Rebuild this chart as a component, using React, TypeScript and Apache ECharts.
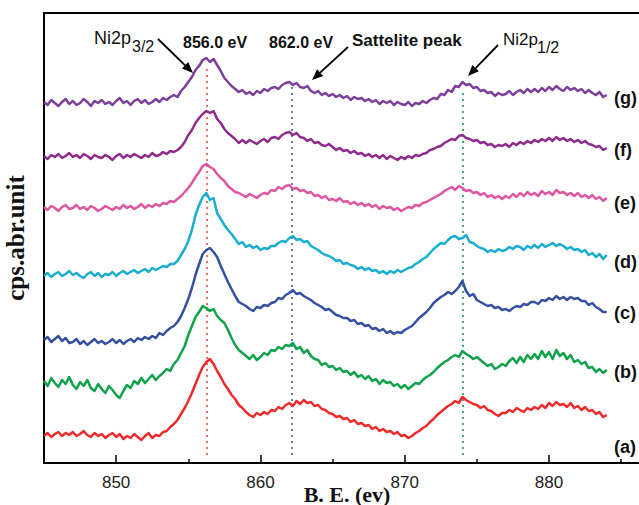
import React, { useEffect, useRef } from "react";
import * as echarts from "echarts";

const energies = [
  845, 845.25, 845.5, 845.75, 846, 846.25, 846.5, 846.75,
  847, 847.25, 847.5, 847.75, 848, 848.25, 848.5, 848.75,
  849, 849.25, 849.5, 849.75, 850, 850.25, 850.5, 850.75,
  851, 851.25, 851.5, 851.75, 852, 852.25, 852.5, 852.75,
  853, 853.25, 853.5, 853.75, 854, 854.25, 854.5, 854.75,
  855, 855.25, 855.5, 855.75, 856, 856.25, 856.5, 856.75,
  857, 857.25, 857.5, 857.75, 858, 858.25, 858.5, 858.75,
  859, 859.25, 859.5, 859.75, 860, 860.25, 860.5, 860.75,
  861, 861.25, 861.5, 861.75, 862, 862.25, 862.5, 862.75,
  863, 863.25, 863.5, 863.75, 864, 864.25, 864.5, 864.75,
  865, 865.25, 865.5, 865.75, 866, 866.25, 866.5, 866.75,
  867, 867.25, 867.5, 867.75, 868, 868.25, 868.5, 868.75,
  869, 869.25, 869.5, 869.75, 870, 870.25, 870.5, 870.75,
  871, 871.25, 871.5, 871.75, 872, 872.25, 872.5, 872.75,
  873, 873.25, 873.5, 873.75, 874, 874.25, 874.5, 874.75,
  875, 875.25, 875.5, 875.75, 876, 876.25, 876.5, 876.75,
  877, 877.25, 877.5, 877.75, 878, 878.25, 878.5, 878.75,
  879, 879.25, 879.5, 879.75, 880, 880.25, 880.5, 880.75,
  881, 881.25, 881.5, 881.75, 882, 882.25, 882.5, 882.75,
  883, 883.25, 883.5, 883.75, 884,
];

const curveA = [
  27, 30, 26, 29, 31, 27, 30, 28,
  31, 27, 29, 32, 28, 26, 30, 27,
  29, 25, 28, 30, 26, 29, 24, 27,
  25, 29, 26, 23, 27, 30, 25, 28,
  27, 31, 32, 36, 39, 43, 49, 55,
  62, 70, 79, 88, 96, 101, 104, 99,
  92, 86, 79, 74, 68, 64, 58, 55,
  51, 48, 46, 50, 48, 51, 49, 53,
  52, 56, 54, 58, 60, 57, 62, 59,
  63, 60, 61, 57, 58, 54, 53, 50,
  49, 46, 47, 44, 45, 41, 43, 39,
  40, 37, 38, 34, 36, 32, 34, 31,
  32, 29, 31, 27, 28, 25, 27, 30,
  32, 35, 37, 41, 44, 48, 51, 54,
  57, 59, 62, 60, 66, 63, 61, 59,
  58, 55, 57, 53, 52, 49, 47, 50,
  50, 53, 51, 55, 53, 51, 55, 53,
  56, 54, 58, 55, 60, 57, 61, 58,
  59, 56, 60, 55, 57, 53, 56, 52,
  53, 49, 51, 46, 48,
];
const curveB = [
  82, 77, 85, 80, 76, 83, 79, 86,
  78, 74, 81, 77, 83, 75, 72, 79,
  74, 70, 77, 73, 68, 65, 72, 78,
  75, 82, 79, 85, 80, 84, 88, 83,
  87, 90, 94, 92, 99, 103, 110, 117,
  128, 137, 146, 151, 157, 155, 152, 154,
  147, 143, 140, 133, 125, 118, 113, 110,
  107, 104, 108, 103, 106, 110, 108, 113,
  112, 116, 114, 118, 117, 120, 114, 116,
  110, 113, 107, 104, 103, 98, 100, 96,
  97, 93, 95, 91, 92, 88, 91, 86,
  88, 84, 87, 82, 84, 79, 83, 80,
  81, 77, 79, 75, 78, 74, 77, 80,
  79, 83, 86, 88, 91, 95, 98, 101,
  103, 106, 108, 106, 112, 109, 107, 104,
  106, 103, 100, 97, 99, 94, 96, 99,
  97, 102, 105, 100, 106, 101, 108, 104,
  109, 104, 112, 106, 111, 104, 113, 107,
  110, 104, 108, 101, 103, 99, 101, 95,
  96, 91, 94, 90, 93,
];
const curveC = [
  123, 126, 121, 124, 127, 122, 125, 120,
  121, 124, 119, 122, 118, 121, 124, 120,
  122, 119, 121, 124, 120, 123, 119, 122,
  124, 121, 125, 123, 126, 124, 127, 125,
  130, 128, 132, 135, 137, 141, 147, 155,
  164, 175, 188, 199, 209, 213, 215, 211,
  206, 197, 189, 181, 174, 167, 161, 159,
  157, 154, 152, 156, 155, 158, 157, 160,
  161, 165, 164, 168, 170, 173, 169, 170,
  167, 165, 163, 160, 158, 156, 153, 154,
  151, 148, 147, 145, 145, 142, 143, 139,
  140, 137, 138, 134, 135, 132, 134, 130,
  132, 129, 131, 130, 133, 135, 137, 141,
  145, 148, 151, 155, 160, 163, 166, 168,
  171, 169, 172, 176, 182, 172, 167, 169,
  163, 161, 159, 157, 158, 155, 156, 153,
  154, 152, 155, 157, 156, 159, 158, 161,
  161, 159, 163, 162, 165, 163, 167, 164,
  166, 163, 166, 164, 165, 162, 162, 158,
  160, 156, 154, 151, 151,
];
const curveD = [
  187, 190, 186, 189, 191, 187, 189, 192,
  188, 190, 187, 185, 189, 191, 187, 190,
  186, 189, 188, 191, 187, 190, 192, 189,
  191, 193, 190, 192, 194, 191, 195, 193,
  195, 197, 196, 199, 199, 202, 208, 214,
  222, 233, 248, 258, 266, 270, 263, 265,
  250, 244, 238, 233, 229, 224, 219, 221,
  216, 218, 215, 217, 213, 215, 214, 217,
  217, 220, 222, 221, 225, 227, 223, 224,
  221, 222, 217, 215, 213, 210, 208, 207,
  205, 202, 203, 199, 200, 198, 197, 194,
  196, 193, 195, 192, 193, 190, 192, 189,
  192, 190, 193, 191, 193, 195, 196, 199,
  201, 204, 206, 210, 214, 217, 220, 219,
  223, 226, 227, 224, 225, 228, 221, 220,
  217, 215, 214, 211, 213, 211, 214, 212,
  213, 216, 214, 217, 216, 213, 217, 215,
  218, 215, 219, 216, 218, 220, 217, 219,
  217, 214, 216, 213, 214, 211, 213, 208,
  210, 206, 209, 204, 208,
];
const curveE = [
  256, 253, 257, 255, 252, 256, 258, 254,
  255, 258, 254, 256, 253, 257, 255, 252,
  254, 257, 255, 253, 256, 254, 258, 255,
  257, 254, 256, 259, 255, 258, 256, 259,
  257, 260, 259, 262, 261, 264, 267, 271,
  275, 280, 286, 291, 297, 299, 296, 294,
  289, 285, 282, 277, 274, 271, 270, 268,
  266, 269, 267, 265, 268, 270, 269, 273,
  272, 276, 274, 277, 278, 274, 275, 272,
  273, 270, 271, 267, 268, 265, 267, 263,
  264, 262, 265, 261, 262, 259, 261, 258,
  260, 257, 259, 256, 258, 254, 257, 255,
  256, 253, 255, 252, 254, 256, 255, 258,
  257, 260, 261, 263, 265, 267, 269, 272,
  274, 276, 273, 277, 275, 272, 273, 270,
  271, 268, 270, 266, 268, 265, 267, 264,
  267, 265, 269, 266, 270, 267, 271, 268,
  270, 267, 272, 269, 271, 268, 273, 270,
  271, 268, 270, 267, 270, 266, 268, 265,
  268, 264, 266, 262, 265,
];
const curveF = [
  307, 304, 308, 306, 309, 305, 307, 310,
  306, 308, 305, 309, 307, 304, 308, 306,
  305, 308, 306, 303, 307, 309, 305, 308,
  306, 309, 307, 305, 308, 306, 310, 307,
  308, 311, 309, 312, 311, 313, 316, 321,
  328, 333, 340, 345, 349, 352, 350, 352,
  344, 340, 334, 330, 327, 324, 320, 323,
  320, 323, 321, 319, 322, 324, 321, 325,
  326, 324, 328, 330, 331, 328, 330, 326,
  325, 322, 324, 320, 321, 318, 317, 319,
  316, 313, 315, 312, 313, 310, 312, 309,
  310, 307, 309, 306, 308, 305, 308, 304,
  307, 305, 303, 306, 304, 307, 305, 308,
  307, 309, 310, 313, 314, 316, 317, 320,
  322, 324, 323, 327, 328, 325, 324, 322,
  323, 320, 321, 318, 319, 316, 318, 317,
  319, 316, 320, 318, 321, 319, 322, 320,
  323, 321, 324, 322, 325, 322, 326, 323,
  325, 322, 324, 321, 323, 320, 322, 319,
  318, 316, 317, 313, 315,
];
const curveG = [
  361, 358, 363, 360, 357, 361, 364, 359,
  362, 358, 360, 364, 361, 357, 362, 360,
  363, 359, 361, 358, 362, 365, 360, 362,
  358, 362, 364, 360, 363, 359, 361, 364,
  361, 365, 363, 366, 368, 366, 372, 376,
  381, 386, 393, 397, 403, 405, 401, 404,
  398, 392, 385, 381, 377, 374, 371, 373,
  369, 371, 368, 372, 370, 374, 372, 375,
  376, 374, 378, 380, 381, 378, 380, 376,
  375, 377, 372, 370, 372, 368, 370, 367,
  369, 366, 368, 365, 367, 363, 366, 364,
  365, 362, 364, 361, 363, 359, 362, 360,
  362, 358, 361, 359, 358, 361, 357, 360,
  359, 362, 360, 363, 365, 364, 369, 368,
  373, 371, 377, 376, 381, 378, 379, 375,
  376, 372, 373, 370, 371, 367, 370, 368,
  369, 372, 368, 371, 373, 370, 374, 371,
  374, 371, 375, 372, 376, 373, 377, 374,
  372, 376, 373, 375, 372, 374, 370, 373,
  370, 368, 371, 366, 368,
];

const curveNames = ["(a)", "(b)", "(c)", "(d)", "(e)", "(f)", "(g)"];
const curves = [curveA, curveB, curveC, curveD, curveE, curveF, curveG];
const curveColors = ["#ee2b2b", "#0fa24b", "#34509f", "#19aed0", "#de569f", "#8e2b8c", "#7c3f9b"];
const labelY = [447, 372, 313, 262, 203, 150, 98];

const xMajorTicks = [850, 860, 870, 880];
const xMinorTicks = [855, 865, 875, 885];

// reference lines: [energy, top value, colour]
const peakLines: [number, number, string][] = [
  [856.3, 398, "#f04a3a"],
  [862.2, 376, "#4a5bb0"],
  [874.0, 373, "#16925a"],
];

function arrow(x1: number, y1: number, x2: number, y2: number) {
  const dx = x2 - x1;
  const dy = y2 - y1;
  const len = Math.sqrt(dx * dx + dy * dy);
  const ux = dx / len;
  const uy = dy / len;
  const hl = 11;
  const hw = 4.5;
  const bx = x2 - ux * hl;
  const by = y2 - uy * hl;
  return [
    {
      type: "line",
      shape: { x1, y1, x2: bx, y2: by },
      style: { stroke: "#000", lineWidth: 1.8 },
    },
    {
      type: "polygon",
      shape: {
        points: [
          [x2, y2],
          [bx - uy * hw, by + ux * hw],
          [bx + uy * hw, by - ux * hw],
        ],
      },
      style: { fill: "#000" },
    },
  ];
}

const sans = "Liberation Sans, Arial, sans-serif";
const serif = "Liberation Serif, Times New Roman, serif";

export default function App() {
  const ref = useRef<HTMLDivElement>(null);

  useEffect(() => {
    if (!ref.current) return;
    const chart = echarts.init(ref.current, null, { renderer: "svg" });

    const series: any[] = curves.map((vals, i) => ({
      name: curveNames[i],
      type: "line",
      data: vals.map((v, j) => [energies[j], v]),
      showSymbol: false,
      smooth: false,
      lineStyle: { color: curveColors[i], width: 2.5, join: "round" },
      itemStyle: { color: curveColors[i] },
      z: 3,
    }));
    series[0].markLine = {
      symbol: ["none", "none"],
      silent: true,
      label: { show: false },
      z: 2,
      data: peakLines.map(([e, top, c]) => [
        { coord: [e, 8], lineStyle: { color: c, type: [2, 4], width: 1.6 } },
        { coord: [e, top] },
      ]),
    };

    const graphic: any[] = [];
    curveNames.forEach((n, i) => {
      graphic.push({
        type: "text",
        x: 614,
        y: labelY[i],
        style: {
          text: n,
          font: `bold 18px ${sans}`,
          fill: "#111",
          textVerticalAlign: "middle",
        },
      });
    });
    const ann = (text: string, x: number, y: number, size: number, weight: string) => ({
      type: "text",
      x,
      y,
      style: {
        text,
        font: `${weight} ${size}px ${sans}`,
        fill: "#111",
        textVerticalAlign: "middle",
      },
    });
    graphic.push(ann("Ni2p", 94, 38, 18, "normal"));
    graphic.push(ann("3/2", 132, 46, 16, "normal"));
    graphic.push(ann("856.0 eV", 183, 42, 16, "bold"));
    graphic.push(ann("862.0 eV", 269, 42, 16, "bold"));
    graphic.push(ann("Sattelite peak", 352, 40, 17, "bold"));
    graphic.push(ann("Ni2p", 503, 39, 17, "normal"));
    graphic.push(ann("1/2", 537, 47, 16, "normal"));
    graphic.push(...arrow(158, 39, 193, 73));
    graphic.push(...arrow(348, 47, 312, 80));
    graphic.push(...arrow(498, 45, 468, 76));

    chart.setOption({
      animation: false,
      backgroundColor: "#fff",
      grid: {
        left: 44,
        right: 30,
        top: 13,
        bottom: 42,
        show: true,
        borderColor: "#000",
        borderWidth: 2,
        containLabel: false,
        outerBoundsMode: "none",
      },
      xAxis: [
        {
          type: "value",
          min: 845,
          max: 887,
          name: "B. E. (ev)",
          nameLocation: "middle",
          nameGap: 20,
          nameMoveOverlap: false,
          nameTextStyle: { fontFamily: serif, fontWeight: "bold", fontSize: 22, color: "#111" },
          axisLine: { show: true, onZero: false, lineStyle: { color: "#000", width: 2 } },
          axisTick: { show: true, inside: true, length: 8, customValues: xMajorTicks, lineStyle: { color: "#000", width: 1.5 } },
          axisLabel: { show: true, customValues: xMajorTicks, fontFamily: sans, fontSize: 17, color: "#222", margin: 11 },
          splitLine: { show: false },
        },
        {
          type: "value",
          min: 845,
          max: 887,
          position: "bottom",
          axisLine: { show: false },
          axisTick: { show: true, inside: true, length: 4, customValues: xMinorTicks, lineStyle: { color: "#000", width: 1.5 } },
          axisLabel: { show: false },
          splitLine: { show: false },
        },
      ],
      yAxis: {
        type: "value",
        min: 0,
        max: 450,
        name: "cps.abr.unit",
        nameLocation: "middle",
        nameGap: 16,
        nameMoveOverlap: false,
        nameTextStyle: { fontFamily: serif, fontWeight: "bold", fontSize: 25, color: "#111" },
        axisLine: { show: true, lineStyle: { color: "#000", width: 2 } },
        axisTick: { show: false },
        axisLabel: { show: false },
        splitLine: { show: false },
      },
      series,
      graphic,
    });

    return () => chart.dispose();
  }, []);

  return (
    <div style={{ position: "fixed", left: 0, top: 0, width: 639, height: 505, overflow: "hidden", background: "#fff" }}>
      <div ref={ref} style={{ width: 680, height: 505 }} />
    </div>
  );
}
